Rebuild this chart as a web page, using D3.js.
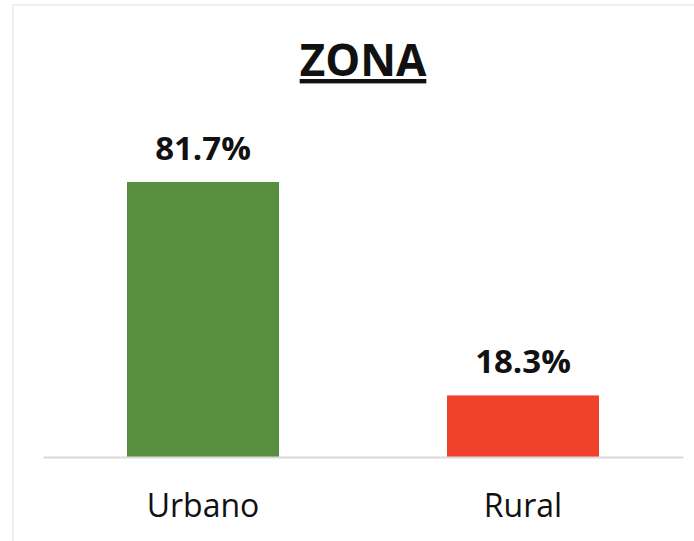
<!DOCTYPE html>
<html>
<head>
<meta charset="utf-8">
<script src="https://cdn.jsdelivr.net/npm/d3@7"></script>
<style>
  body { margin: 0; background: #fff; }
  text { font-family: "Open Sans", sans-serif; fill: #111; }
</style>
</head>
<body>
<div class="chart"></div>
<script>
"use strict"

const categories = ["Urbano", "Rural"];
const values = [81.7, 18.3];
const colors = ["#588f3f", "#f1412b"];
const title = "ZONA";

const width = 694,
      height = 541;

const svg = d3.select("div.chart").append("svg")
    .attr("width", width)
    .attr("height", height);

// light frame
svg.append("path")
    .attr("d", "M13," + height + " L13,5 L" + width + ",5")
    .attr("fill", "none")
    .attr("stroke", "#efefef")
    .attr("stroke-width", 2);

const scaleX = d3.scaleBand()
    .domain(categories)
    .range([43, 683])
    .paddingInner(0.525)
    .paddingOuter(0.2625);

const scaleY = d3.scaleLinear()
    .domain([0, 100])
    .range([457, 120.4]);

svg.selectAll("rect.bar")
    .data(values)
    .enter().append("rect")
    .attr("class", "bar")
    .attr("x", (d, i) => scaleX(categories[i]))
    .attr("y", d => scaleY(d))
    .attr("width", scaleX.bandwidth())
    .attr("height", d => scaleY(0) - scaleY(d))
    .attr("fill", (d, i) => colors[i]);

// baseline + category labels
const xAxis = svg.append("g")
    .attr("transform", "translate(0," + scaleY(0) + ")")
    .call(d3.axisBottom(scaleX).tickSize(0).tickPadding(37));
xAxis.select(".domain")
    .attr("stroke", "#d9d9d9")
    .attr("stroke-width", 2);
xAxis.selectAll(".tick text")
    .style("font-family", "'Open Sans', sans-serif")
    .style("font-size", "32px")
    .attr("fill", "#111");

// value labels
svg.selectAll("text.val")
    .data(values)
    .enter().append("text")
    .attr("class", "val")
    .attr("x", (d, i) => scaleX(categories[i]) + scaleX.bandwidth() / 2)
    .attr("y", d => scaleY(d) - 22)
    .attr("text-anchor", "middle")
    .style("font-size", "33px")
    .style("font-weight", "bold")
    .text(d => d.toFixed(1) + "%");

svg.append("text")
    .attr("x", 363)
    .attr("y", 76)
    .attr("text-anchor", "middle")
    .style("font-size", "44px")
    .style("font-weight", "bold")
    .style("text-decoration", "underline")
    .text(title);
</script>
</body>
</html>
